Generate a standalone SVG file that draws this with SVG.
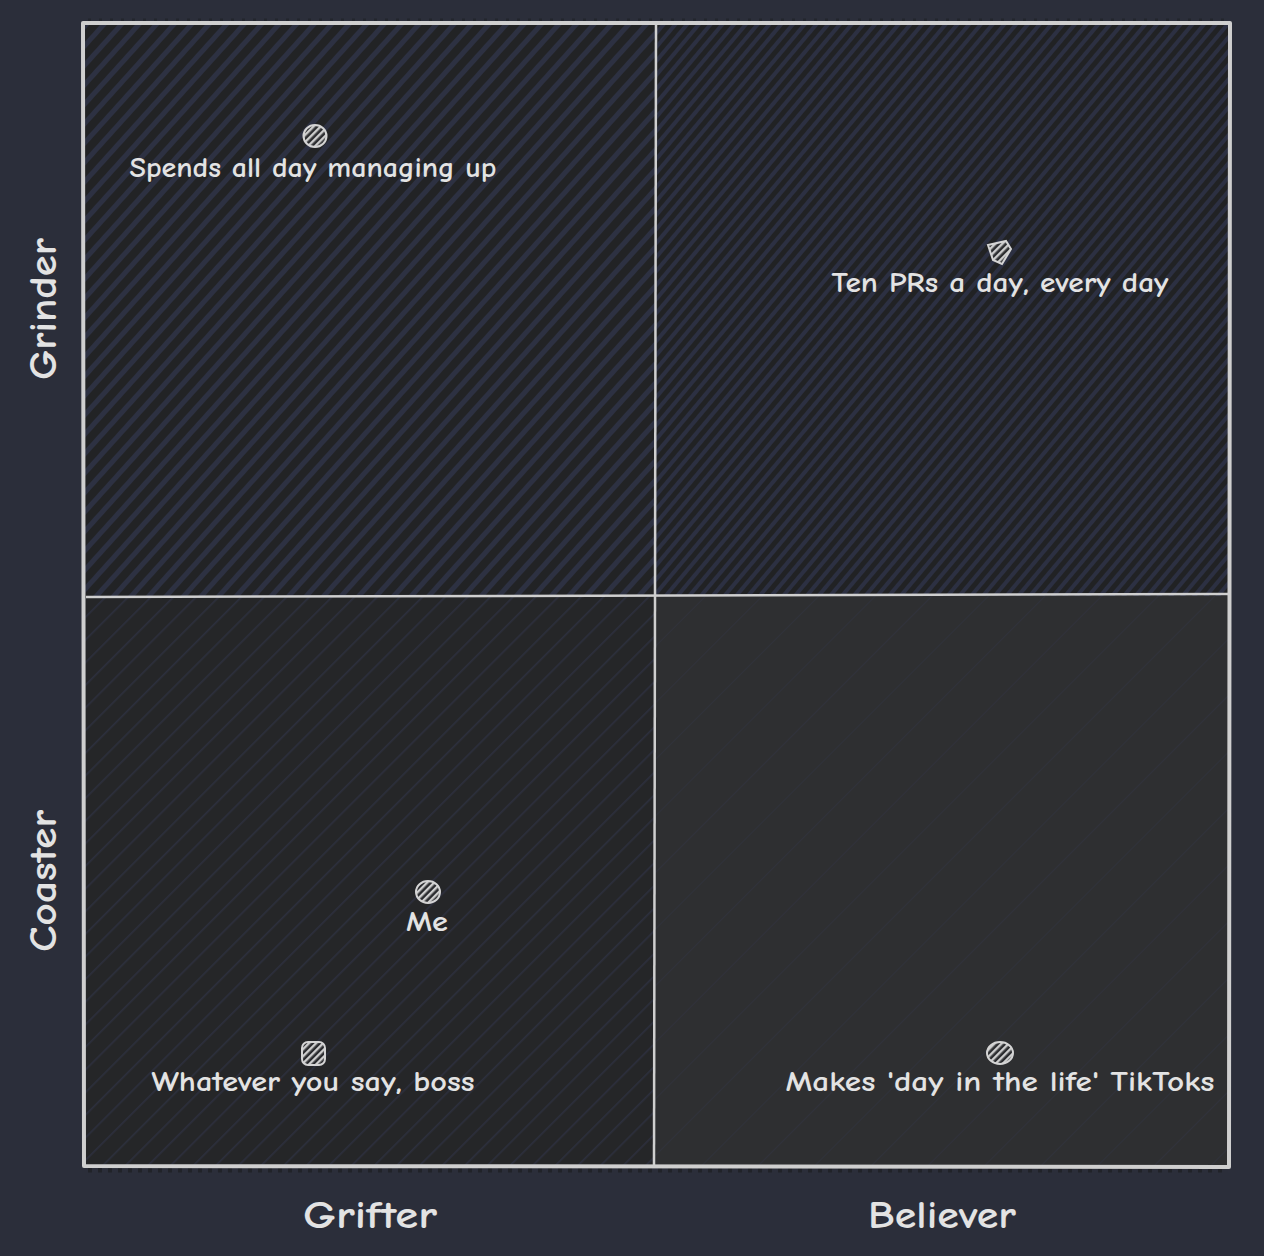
<svg xmlns="http://www.w3.org/2000/svg" width="1264" height="1256" viewBox="0 0 1264 1256">
  <defs>
    <pattern id="hatchA" patternUnits="userSpaceOnUse" width="13" height="13" patternTransform="rotate(-48)">
      <rect width="13" height="13" fill="#222325"/>
      <rect x="0" y="0" width="13" height="5" fill="#2d3142"/>
    </pattern>
    <pattern id="hatchB" patternUnits="userSpaceOnUse" width="9" height="9" patternTransform="rotate(-50)">
      <rect width="9" height="9" fill="#212224"/>
      <rect x="0" y="0" width="9" height="4" fill="#2c3042"/>
    </pattern>
    <pattern id="hatchC" patternUnits="userSpaceOnUse" width="16" height="16" patternTransform="rotate(-45)">
      <rect width="16" height="16" fill="#252628"/>
      <rect x="0" y="0" width="16" height="1.6" fill="#2c2f3d"/>
    </pattern>
    <pattern id="hatchD" patternUnits="userSpaceOnUse" width="40" height="40" patternTransform="rotate(-45)">
      <rect width="40" height="40" fill="#2e2f31"/>
      <rect x="0" y="0" width="40" height="1" fill="#30323b"/>
    </pattern>
    <pattern id="dotHatch" patternUnits="userSpaceOnUse" width="5" height="5" patternTransform="rotate(-45)">
      <rect width="5" height="5" fill="#2a2b2e"/>
      <rect x="0" y="0" width="5" height="2.4" fill="#cfcfcf"/>
    </pattern>
    <style>
      .lbl { font-family: "Comic Neue", "Comic Sans MS", "Liberation Sans", sans-serif; font-weight: bold; fill: #e3e3e3; text-anchor: middle; }
      .pt { font-size: 28px; }
      .ax { font-size: 38px; }
      .dot { fill: url(#dotHatch); stroke: #d4d4d4; stroke-width: 2; }
      .frame { fill: none; stroke: #cfcfcf; stroke-width: 4; stroke-linejoin: round; }
      .div { stroke: #cfcfcf; stroke-width: 2.5; }
    </style>
  </defs>

  <rect width="1264" height="1256" fill="#2b2e3a"/>

  <g id="quadrants">
    <rect id="q-tl" x="85" y="25" width="570" height="571" fill="url(#hatchA)"/>
    <rect id="q-tr" x="655" y="25" width="573" height="571" fill="url(#hatchB)"/>
    <rect id="q-bl" x="85" y="596" width="570" height="570" fill="url(#hatchC)"/>
    <rect id="q-br" x="655" y="596" width="573" height="570" fill="url(#hatchD)"/>
  </g>

  <g id="connectors">
    <line x1="88" y1="1170" x2="1226" y2="1170" stroke="#1f2126" stroke-width="5" stroke-dasharray="4 6" opacity="0.8"/>
    <line x1="88" y1="20" x2="1226" y2="20" stroke="#1f2126" stroke-width="3" stroke-dasharray="3 8" opacity="0.6"/>
    <path class="frame" d="M83 23 L1230 23 L1229 1167 L84 1166 Z"/>
    <line class="div" x1="656" y1="25" x2="654" y2="1165"/>
    <line class="div" x1="86" y1="597" x2="1228" y2="594"/>
  </g>

  <g id="node-managing-up">
    <ellipse class="dot" cx="315" cy="136" rx="11.5" ry="11"/>
    <text class="lbl pt" x="313" y="177" textLength="367" lengthAdjust="spacingAndGlyphs">Spends all day managing up</text>
  </g>
  <g id="node-ten-prs">
    <path class="dot" d="M988 245 L1006 241 L1011 249 L1002 264 L993 260 Z"/>
    <text class="lbl pt" x="1000" y="292" textLength="337" lengthAdjust="spacingAndGlyphs">Ten PRs a day, every day</text>
  </g>
  <g id="node-me">
    <ellipse class="dot" cx="428" cy="892" rx="12" ry="11"/>
    <text class="lbl pt" x="427" y="931" textLength="42" lengthAdjust="spacingAndGlyphs">Me</text>
  </g>
  <g id="node-whatever">
    <rect class="dot" x="302" y="1042" width="23" height="23" rx="6"/>
    <text class="lbl pt" x="313" y="1091" textLength="323" lengthAdjust="spacingAndGlyphs">Whatever you say, boss</text>
  </g>
  <g id="node-tiktoks">
    <ellipse class="dot" cx="1000" cy="1053" rx="13" ry="11"/>
    <text class="lbl pt" x="1000" y="1091" textLength="429" lengthAdjust="spacingAndGlyphs">Makes 'day in the life' TikToks</text>
  </g>

  <g id="axis-labels">
    <text class="lbl ax" x="370" y="1228" textLength="134" lengthAdjust="spacingAndGlyphs">Grifter</text>
    <text class="lbl ax" x="942" y="1228" textLength="148" lengthAdjust="spacingAndGlyphs">Believer</text>
    <text class="lbl ax" transform="translate(56 309) rotate(-90)" x="0" y="0" textLength="142" lengthAdjust="spacingAndGlyphs">Grinder</text>
    <text class="lbl ax" transform="translate(56 881) rotate(-90)" x="0" y="0" textLength="142" lengthAdjust="spacingAndGlyphs">Coaster</text>
  </g>
</svg>
